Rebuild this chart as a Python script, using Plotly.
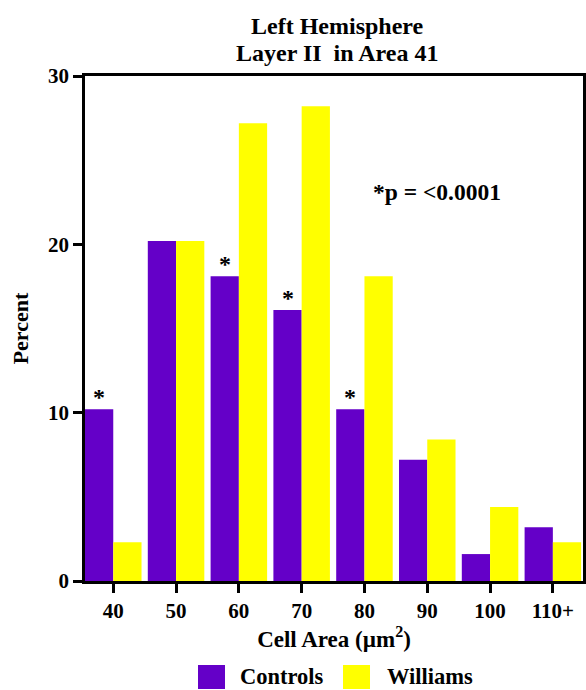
import plotly.graph_objects as go

categories = ["40", "50", "60", "70", "80", "90", "100", "110+"]
controls = [10.2, 20.2, 18.1, 16.1, 10.2, 7.2, 1.6, 3.2]
williams = [2.3, 20.2, 27.2, 28.2, 18.1, 8.4, 4.4, 2.3]
significant = [True, False, True, True, True, False, False, False]
y_ticks = [0, 10, 20, 30]

PURPLE = "#6400C8"
YELLOW = "#FFFF00"
FONT = "Liberation Serif"

W, H = 586, 690
ML, MR, MT, MB = 85, 3, 76, 109
plot_h = H - MT - MB
plot_w = W - ML - MR

x = list(range(len(categories)))

fig = go.Figure()
fig.add_trace(go.Bar(x=x, y=controls, name="Controls", marker=dict(color=PURPLE, line=dict(width=0))))
fig.add_trace(go.Bar(x=x, y=williams, name="Williams", marker=dict(color=YELLOW, line=dict(width=0))))

bargap = 0.1
half = (1 - bargap) / 2
annotations = []
for i, (v, s) in enumerate(zip(controls, significant)):
    if s:
        annotations.append(dict(
            x=i - half / 2, y=v, xref="x", yref="y", text="<b>*</b>", showarrow=False,
            yanchor="bottom", yshift=-3,
            font=dict(family=FONT, size=24, color="black")))

annotations.append(dict(
    x=5.15, y=23.1, xref="x", yref="y", text="<b>*p = &lt;0.0001</b>", showarrow=False,
    font=dict(family=FONT, size=23.5, color="black")))

def px_x(px):
    return (px - ML) / plot_w

def px_y(py):
    return (H - MB - py) / plot_h

# title as paper annotations
annotations.append(dict(x=px_x(337), y=px_y(26.5), xref="paper", yref="paper",
                        text="<b>Left Hemisphere</b>", showarrow=False,
                        xanchor="center", yanchor="middle",
                        font=dict(family=FONT, size=24, color="black")))
annotations.append(dict(x=px_x(337), y=px_y(53), xref="paper", yref="paper",
                        text="<b>Layer II\u00a0\u00a0in Area 41</b>", showarrow=False,
                        xanchor="center", yanchor="middle",
                        font=dict(family=FONT, size=24, color="black")))

shapes = []
legend_items = [("Controls", PURPLE, 198, 238), ("Williams", YELLOW, 343, 385)]
for name, col, sx, tx in legend_items:
    shapes.append(dict(type="rect", xref="paper", yref="paper",
                       x0=px_x(sx), x1=px_x(sx + 27), y0=px_y(689), y1=px_y(665),
                       fillcolor=col, line=dict(width=0)))
    annotations.append(dict(x=px_x(tx), y=px_y(676), xref="paper", yref="paper",
                            text="<b>" + name + "</b>", showarrow=False,
                            xanchor="left", yanchor="middle",
                            font=dict(family=FONT, size=22.5, color="black")))

fig.update_layout(
    width=W, height=H,
    margin=dict(l=ML, r=MR, t=MT, b=MB, autoexpand=False),
    paper_bgcolor="white", plot_bgcolor="white",
    barmode="group", bargap=bargap, bargroupgap=0,
    showlegend=False,
    font=dict(family=FONT, color="black"),
    xaxis=dict(range=[-0.45, 7.48], tickmode="array", tickvals=x,
               ticktext=["<b>" + c + "</b>" for c in categories],
               ticks="outside", ticklen=9, tickwidth=2.5, tickcolor="black",
               showline=True, linewidth=2.5, linecolor="black", mirror=True,
               showgrid=False, zeroline=False, automargin=False,
               tickfont=dict(family=FONT, size=21, color="black"),
               title=dict(text="<b>Cell Area (µm<sup>2</sup>)</b>", standoff=8,
                          font=dict(family=FONT, size=23, color="black"))),
    yaxis=dict(range=[0, 30], tickmode="array", tickvals=y_ticks,
               ticktext=["<b>%d</b>" % t for t in y_ticks],
               ticks="outside", ticklen=9, tickwidth=2.5, tickcolor="black",
               showline=True, linewidth=2.5, linecolor="black", mirror=True,
               showgrid=False, zeroline=False, automargin=False,
               tickfont=dict(family=FONT, size=21, color="black"),
               title=dict(text="<b>Percent</b>", standoff=14,
                          font=dict(family=FONT, size=22, color="black"))),
    annotations=annotations,
    shapes=shapes,
)

fig.write_html("out.html", config={"displayModeBar": False},
               post_script="document.body.style.margin='0';document.body.style.padding='0';")
